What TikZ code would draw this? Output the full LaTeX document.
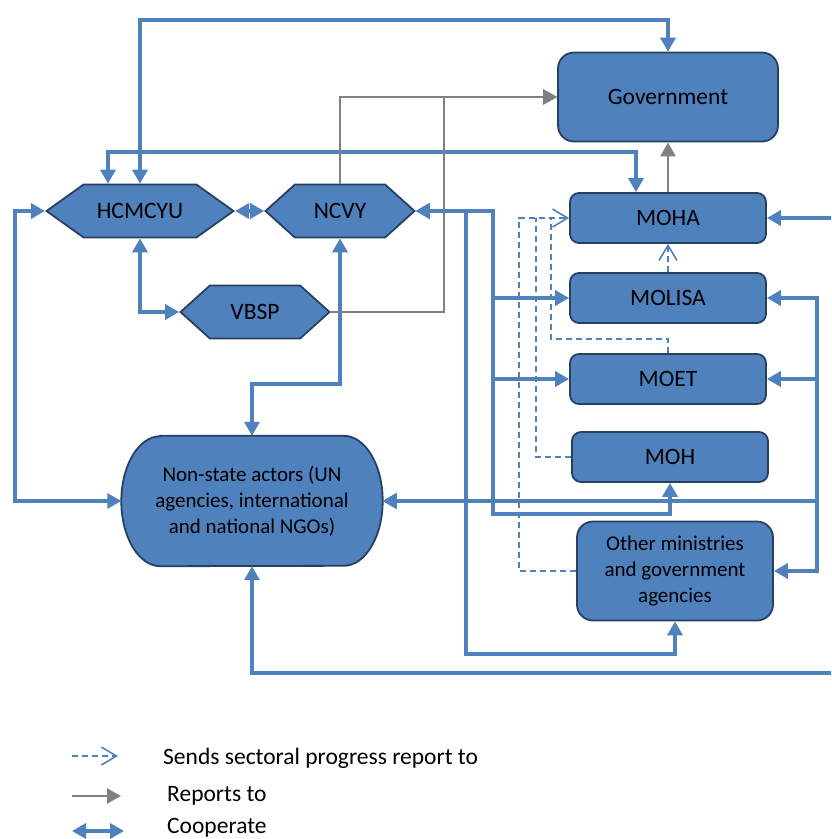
\documentclass[tikz,border=0pt]{standalone}
\usepackage{fontspec}
\setmainfont{Carlito}
\usetikzlibrary{arrows.meta,shapes.symbols,backgrounds,positioning}
\definecolor{boxblue}{RGB}{79,129,189}
\definecolor{boxedge}{RGB}{37,64,97}
\definecolor{repgray}{RGB}{128,128,128}

\begin{document}
\begin{tikzpicture}[x=1pt,y=-1pt,
  font=\fontsize{23.5}{28}\selectfont,
  box/.style={draw=boxedge,line width=1.8pt,fill=boxblue,rounded corners=9pt,minimum width=196pt,minimum height=50pt,inner sep=2pt},
  bigbox/.style={box,rounded corners=16pt},
  hexa/.style={shape=signal,signal to=west and east,draw=boxedge,line width=1.8pt,fill=boxblue,minimum height=53pt,inner sep=0pt},
  multi/.style={align=center,font=\fontsize{21}{26}\selectfont},
  coop/.style={draw=boxblue,line width=4.6pt,{Triangle[width=15pt,length=14pt]}-{Triangle[width=15pt,length=14pt]}},
  reports/.style={draw=repgray,line width=2.2pt,-{Triangle[width=15pt,length=14pt]}},
  sends/.style={draw=boxblue,line width=1.6pt,dash pattern=on 6pt off 4pt},
  sendtip/.style={-{Straight Barb[width=18pt,length=15pt]}},
]
\useasboundingbox (0,0) rectangle (831,839);
\clip (0,0) rectangle (831,839);

% government side
\node[bigbox,minimum width=220pt,minimum height=89pt] (gov) at (668,97) {Government};
\node[box] (moha) at (668,218) {MOHA};
\node[box] (molisa) at (668,298) {MOLISA};
\node[box] (moet) at (668,379) {MOET};
\node[box] (moh) at (670,457) {MOH};
\node[bigbox,multi,minimum height=99pt] (other) at (675,571) {Other ministries\\and government\\agencies};

% youth organisations
\node[hexa,minimum width=187pt,signal pointer angle=71] (hcmcyu) at (140,211) {HCMCYU};
\node[hexa,minimum width=149pt,signal pointer angle=84] (ncvy) at (340,211) {NCVY};
\node[hexa,minimum width=149pt,signal pointer angle=84] (vbsp) at (255,312) {VBSP};

% non-state actors
\node[multi,minimum width=261pt,minimum height=130pt] (nsa) at (252,501) {Non-state actors (UN\\agencies, international\\and national NGOs)};
\begin{scope}[on background layer]
\draw[draw=boxedge,line width=1.8pt,fill=boxblue] ([xshift=39pt]nsa.north west) -- ([xshift=-39pt]nsa.north east)
  arc[start angle=90,end angle=-90,x radius=39pt,y radius=65pt] -- ([xshift=39pt]nsa.south west)
  arc[start angle=270,end angle=90,x radius=39pt,y radius=65pt] -- cycle;
\end{scope}

% cooperate
\coordinate (edgeA) at (845,218);
\coordinate (edgeB) at (845,673);
\draw[coop] (hcmcyu.north) -- (140,20) -| (gov.north);
\draw[coop] ([xshift=-32pt]hcmcyu.north) |- (636,152) -- ([xshift=-32pt]moha.north);
\draw[coop] (hcmcyu.west) -- (15,211) |- (nsa.west);
\draw[coop] (hcmcyu.south) |- (vbsp.west);
\draw[coop] (hcmcyu.east) -- (ncvy.west);
\draw[coop] (ncvy.south) -- (340,384) -| (nsa.north);
\draw[coop] (ncvy.east) -- (493,211) |- (molisa.west);
\draw[coop] (ncvy.east) -- (493,211) |- (moet.west);
\draw[coop] (ncvy.east) -- (493,211) -- (493,514) -| (moh.south);
\draw[coop] (ncvy.east) -- (466,211) -- (466,654) -| (other.south);
\draw[coop] (nsa.east) -- (817,501) |- (molisa.east);
\draw[coop] (nsa.east) -- (817,501) |- (moet.east);
\draw[coop] (nsa.east) -- (817,501) |- (other.east);
\draw[coop] (moha.east) -- (edgeA) -- (edgeB) -| (nsa.south);

% reports to
\draw[reports] (ncvy.north) |- (gov.west);
\draw[reports] (vbsp.east) -| (444,97) -- (gov.west);
\draw[reports] (moha.north) -- (gov.south);

% sectoral progress reports
\draw[sends,sendtip] (molisa.north) -- (moha.south);
\draw[sends,sendtip] (other.west) -| (519,218) -- (moha.west);
\draw[sends] (moh.west) -| (536,218);
\draw[sends] (moet.north) -- (668,339) -| (551,218);

% legend
\coordinate (lgA1) at (72,756);  \coordinate (lgB1) at (118,756);
\coordinate (lgA2) at (72,796);  \coordinate (lgB2) at (121,796);
\coordinate (lgA3) at (72,831);  \coordinate (lgB3) at (124,831);
\draw[sends,sendtip] (lgA1) -- (lgB1);
\draw[reports] (lgA2) -- (lgB2);
\draw[coop] (lgA3) -- (lgB3);
\node[anchor=base west,inner sep=0pt] (lgsends) at (163,764) {Sends sectoral progress report to};
\node[anchor=base west,inner sep=0pt] (lgreports) at (167,801) {Reports to};
\node[anchor=base west,inner sep=0pt] (lgcoop) at (167,833) {Cooperate};
\end{tikzpicture}
\end{document}
